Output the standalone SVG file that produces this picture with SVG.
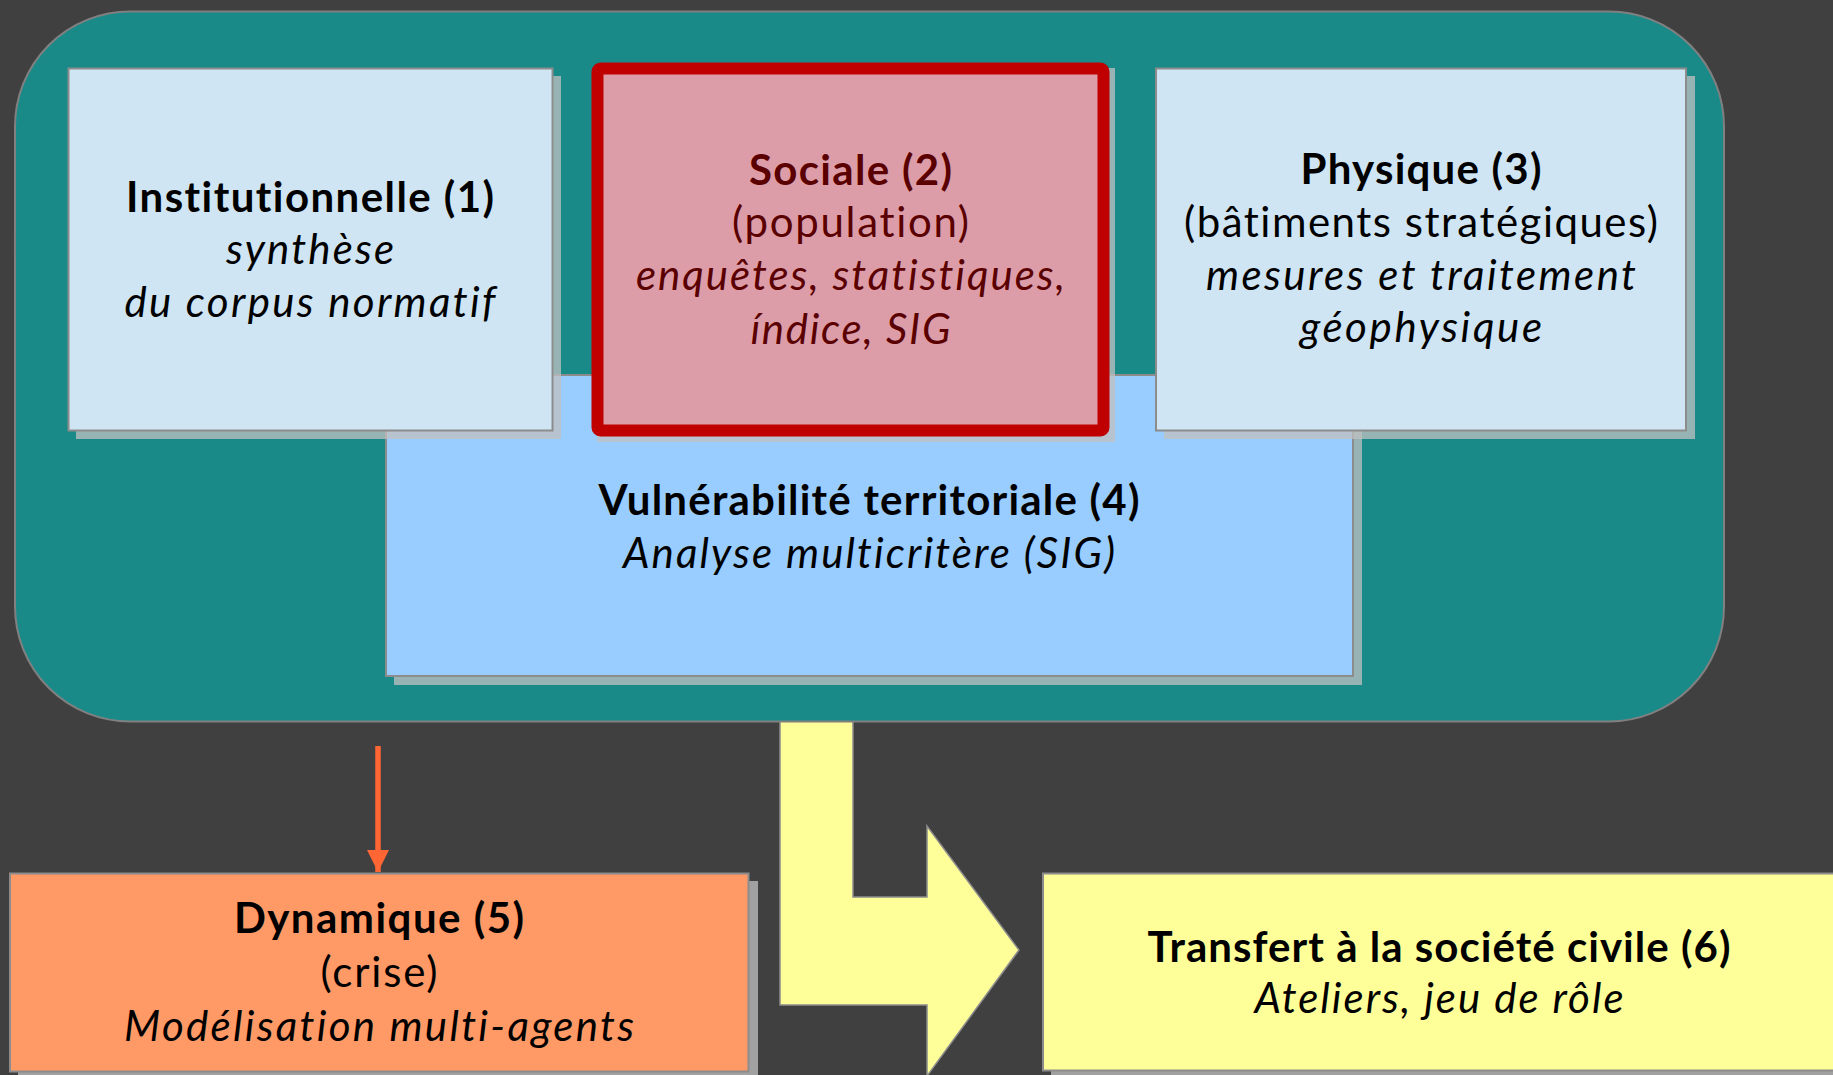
<svg xmlns="http://www.w3.org/2000/svg" width="1833" height="1075" viewBox="0 0 1833 1075">
<style>
  .t { font-family: Lato, "Open Sans", "Liberation Sans", sans-serif; font-size: 42px; text-anchor: middle; fill: #000; font-variant-ligatures: none; }
  .b { font-weight: bold; }
  .i { font-style: italic; }
  .soc { fill: #5A0000; }
  .box { stroke: #8C8C8C; stroke-width: 2; }
  .shadow { fill: #C0C0C0; fill-opacity: 0.76; }
</style>
<defs>
  <marker id="ah" markerWidth="4" markerHeight="4" refX="4" refY="2" orient="auto" markerUnits="strokeWidth">
    <path d="M0,0 L4,2 L0,4 Z" fill="#FF6633"/>
  </marker>
</defs>
<rect x="0" y="0" width="1833" height="1075" fill="#404040"/>

<g id="connectors">
  <polygon id="arrow-transfert" points="780,700 853,700 853,897 927,897 927,826 1019,950 927,1076 927,1005 780,1005" fill="#FFFF99" stroke="#8C8C8C" stroke-width="1.5"/>
</g>

<g id="container">
  <rect x="15" y="11.5" width="1709" height="710" rx="115" ry="115" fill="#1A8A89" stroke="#808080" stroke-width="2"/>
</g>

<g id="node4">
  <rect class="shadow" x="394" y="383" width="968" height="302"/>
  <rect class="box" x="386" y="375" width="967" height="301" fill="#99CCFF"/>
  <text class="t b" x="869" y="515" textLength="541">Vulnérabilité territoriale (4)</text>
  <text class="t i" x="869" y="568" textLength="492">Analyse multicritère (SIG)</text>
</g>

<g id="node1">
  <rect class="shadow" x="76" y="76" width="485" height="363"/>
  <rect class="box" x="68.5" y="68.5" width="484" height="362" fill="#CFE5F3"/>
  <text class="t b" x="310" y="212" textLength="368">Institutionnelle (1)</text>
  <text class="t i" x="310" y="264" textLength="168">synthèse</text>
  <text class="t i" x="310" y="317" textLength="371">du corpus normatif</text>
</g>

<g id="node2">
  <rect class="shadow" x="597" y="68" width="518" height="374"/>
  <rect x="597.5" y="68.5" width="506" height="362" rx="3" fill="#DC9DA9" stroke="#C00000" stroke-width="12"/>
  <text class="t b soc" x="850.5" y="185" textLength="203">Sociale (2)</text>
  <text class="t soc" x="850.5" y="237" textLength="237">(population)</text>
  <text class="t i soc" x="850.5" y="290" textLength="429">enquêtes, statistiques,</text>
  <text class="t i soc" x="850.5" y="344" textLength="200">índice, SIG</text>
</g>

<g id="node3">
  <rect class="shadow" x="1164" y="76" width="531" height="363"/>
  <rect class="box" x="1156" y="68.5" width="530" height="362" fill="#CFE5F3"/>
  <text class="t b" x="1421" y="184" textLength="241">Physique (3)</text>
  <text class="t" x="1421" y="237" textLength="474">(bâtiments stratégiques)</text>
  <text class="t i" x="1421" y="290" textLength="430">mesures et traitement</text>
  <text class="t i" x="1421" y="342" textLength="242">géophysique</text>
</g>

<g id="node5">
  <rect class="shadow" x="18" y="881" width="740" height="200"/>
  <rect class="box" x="10" y="873.5" width="738.5" height="198" fill="#FF9966"/>
  <text class="t b" x="379" y="933" textLength="290">Dynamique (5)</text>
  <text class="t" x="379" y="987" textLength="117">(crise)</text>
  <text class="t i" x="379" y="1041" textLength="510">Modélisation multi-agents</text>
</g>

<g id="node6">
  <rect class="shadow" x="1051" y="881" width="800" height="200"/>
  <rect class="box" x="1043" y="873.5" width="800" height="197" fill="#FFFF99"/>
  <text class="t b" x="1439" y="962" textLength="583">Transfert à la société civile (6)</text>
  <text class="t i" x="1439" y="1013" textLength="369">Ateliers, jeu de rôle</text>
</g>

<g id="connectors-2">
  <line x1="378" y1="746" x2="378" y2="872" stroke="#FF6633" stroke-width="5.5" marker-end="url(#ah)"/>
</g>
</svg>
